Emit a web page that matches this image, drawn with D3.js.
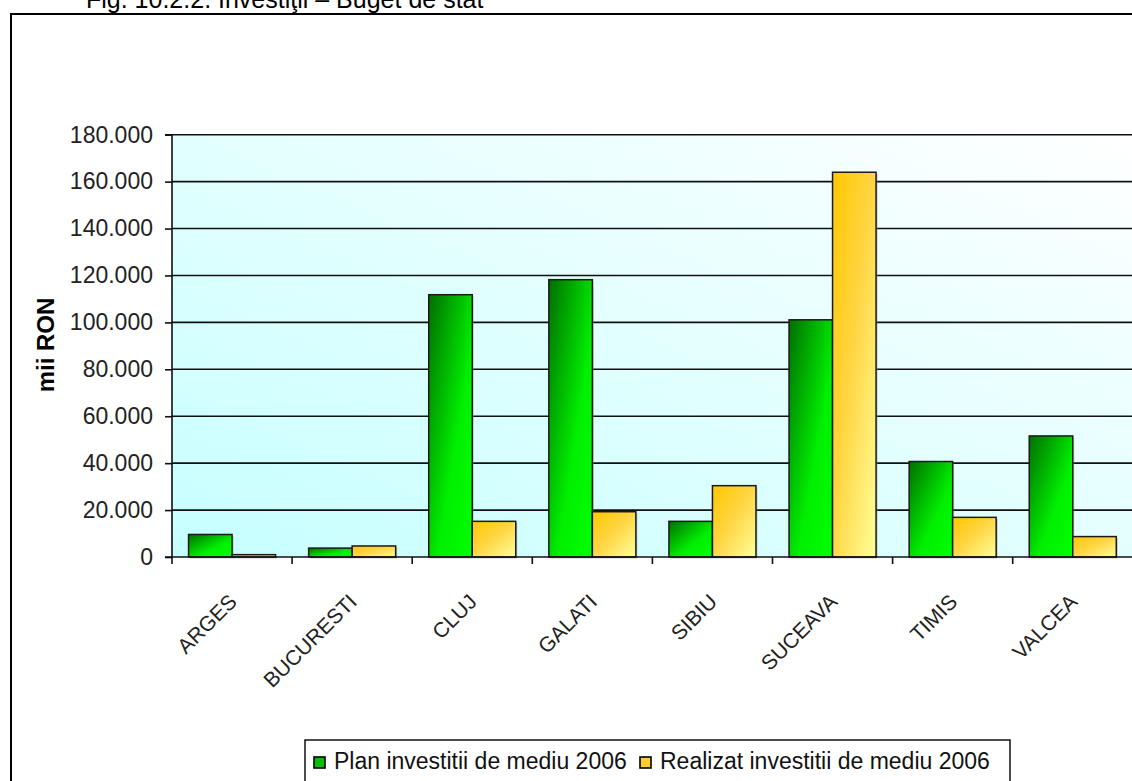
<!DOCTYPE html>
<html><head><meta charset="utf-8">
<script src="https://cdn.jsdelivr.net/npm/d3@7"></script>
<style>body{margin:0;background:#fff;overflow:hidden}svg{display:block}text{font-family:"Liberation Sans",Arial,sans-serif}</style>
</head><body><svg id="c" width="1132" height="781"></svg>
<script>
const categories = ["ARGES","BUCURESTI","CLUJ","GALATI","SIBIU","SUCEAVA","TIMIS","VALCEA"];
const planValues = [9600, 3800, 111800, 118200, 15200, 101100, 40700, 51600];
const realizatValues = [1000, 4700, 15200, 19300, 30400, 164000, 16900, 8700];
const seriesNames = ["Plan investitii de mediu 2006", "Realizat investitii de mediu 2006"];
const yTicks = [0,20000,40000,60000,80000,100000,120000,140000,160000,180000];
const titleText = "Fig. 10.2.2. Investiţii – Buget de stat";
const yTitle = "mii RON";

const svg = d3.select("#c");
const defs = svg.append("defs");
const bg = defs.append("linearGradient").attr("id","bg").attr("x1",0).attr("y1",1).attr("x2",1).attr("y2",0);
bg.append("stop").attr("offset","0%").attr("stop-color","#c6ffff");
bg.append("stop").attr("offset","100%").attr("stop-color","#ffffff");
const gG = defs.append("linearGradient").attr("id","gGreen").attr("x1",0).attr("y1",0).attr("x2",1).attr("y2",1);
gG.append("stop").attr("offset","0%").attr("stop-color","#006e00");
gG.append("stop").attr("offset","60%").attr("stop-color","#00f000");
gG.append("stop").attr("offset","100%").attr("stop-color","#00ff00");
const gY = defs.append("linearGradient").attr("id","gYellow").attr("x1",0).attr("y1",0).attr("x2",1).attr("y2",1);
gY.append("stop").attr("offset","0%").attr("stop-color","#ffc800");
gY.append("stop").attr("offset","45%").attr("stop-color","#ffd440");
gY.append("stop").attr("offset","100%").attr("stop-color","#ffff99");

// title (partially cut off at top, as in the reference)
svg.append("text").attr("x",86).attr("y",8).attr("font-size",25).attr("fill","#000").text(titleText);

// outer frame
svg.append("rect").attr("x",11).attr("y",14).attr("width",1140).attr("height",800).attr("fill","none").attr("stroke","#000").attr("stroke-width",2);

const pLeft = 172, pTop = 134.7, pBottom = 557, bandW = 120.1;
const x = d3.scaleBand().domain(categories).range([pLeft, pLeft + bandW*categories.length]).paddingInner(0).paddingOuter(0);
const y = d3.scaleLinear().domain([0,180000]).range([pBottom, pTop]);
const sub = d3.scaleBand().domain([0,1]).range([0, x.bandwidth()]).paddingInner(0).paddingOuter(0.38);

svg.append("rect").attr("x",pLeft).attr("y",pTop).attr("width",x.range()[1]-pLeft).attr("height",pBottom-pTop).attr("fill","url(#bg)");

// gridlines
svg.append("g").selectAll("line").data(yTicks.filter(d=>d>0)).join("line")
  .attr("x1",pLeft).attr("x2",x.range()[1]).attr("y1",d=>y(d)).attr("y2",d=>y(d))
  .attr("stroke","#111").attr("stroke-width",1.6);

// bars
const series = [planValues, realizatValues];
const fills = ["url(#gGreen)","url(#gYellow)"];
series.forEach((vals,si)=>{
  const g = svg.append("g");
  g.selectAll("rect.sh").data(categories).join("rect").attr("class","sh")
    .attr("x",(d,i)=>x(d)+sub(si)+1.5).attr("y",(d,i)=>y(vals[i])+1.5)
    .attr("width",sub.bandwidth()).attr("height",(d,i)=>pBottom-y(vals[i]))
    .attr("fill","#888").attr("opacity",0.45);
  g.selectAll("rect.b").data(categories).join("rect").attr("class","b")
    .attr("x",(d,i)=>x(d)+sub(si)).attr("y",(d,i)=>y(vals[i]))
    .attr("width",sub.bandwidth()).attr("height",(d,i)=>pBottom-y(vals[i]))
    .attr("fill",fills[si]).attr("stroke","#1a1a1a").attr("stroke-width",1.5);
});

// y axis
const yAxis = d3.axisLeft(y).tickValues(yTicks).tickSize(7).tickPadding(12)
  .tickFormat(d=>d===0?"0":d3.format(",.3f")(d/1000).replace(/,/g,"."));
const ya = svg.append("g").attr("transform",`translate(${pLeft},0)`).call(yAxis);
ya.select(".domain").attr("stroke","#111").attr("stroke-width",1.6).attr("d",`M-7,${pTop}H0V${pBottom}`);
ya.selectAll(".tick line").attr("stroke","#111").attr("stroke-width",1.6);
ya.selectAll(".tick text").attr("font-size",23).attr("fill","#222").attr("font-family","'Liberation Sans',Arial,sans-serif");

// x axis
const boundaries = categories.map(c=>x(c));
const xa = svg.append("g");
xa.append("line").attr("x1",pLeft-7).attr("x2",x.range()[1]).attr("y1",pBottom).attr("y2",pBottom).attr("stroke","#111").attr("stroke-width",1.6);
xa.selectAll("line.t").data(boundaries).join("line").attr("class","t")
  .attr("x1",d=>d).attr("x2",d=>d).attr("y1",pBottom).attr("y2",pBottom+7).attr("stroke","#111").attr("stroke-width",1.6);
xa.selectAll("text").data(categories).join("text")
  .attr("transform",d=>`translate(${x(d)+x.bandwidth()/2+6},${pBottom+46}) rotate(-45)`)
  .attr("text-anchor","end").attr("font-size",21).attr("fill","#222").text(d=>d);

// y title
svg.append("text").attr("transform",`translate(54,345) rotate(-90)`).attr("text-anchor","middle")
  .attr("font-size",24).attr("font-weight","bold").attr("fill","#000").text(yTitle);

// legend
const lg = svg.append("g");
lg.append("rect").attr("x",305).attr("y",740).attr("width",705).attr("height",60).attr("fill","#fff").attr("stroke","#000").attr("stroke-width",1.4);
const legX = [314, 640];
seriesNames.forEach((n,i)=>{
  lg.append("rect").attr("x",legX[i]).attr("y",757).attr("width",11).attr("height",11)
    .attr("fill",i===0?"#00c000":"#ffcc33").attr("stroke","#000").attr("stroke-width",1.6);
  lg.append("text").attr("x",legX[i]+20).attr("y",769).attr("font-size",23).attr("fill","#111").text(n);
});
</script></body></html>
